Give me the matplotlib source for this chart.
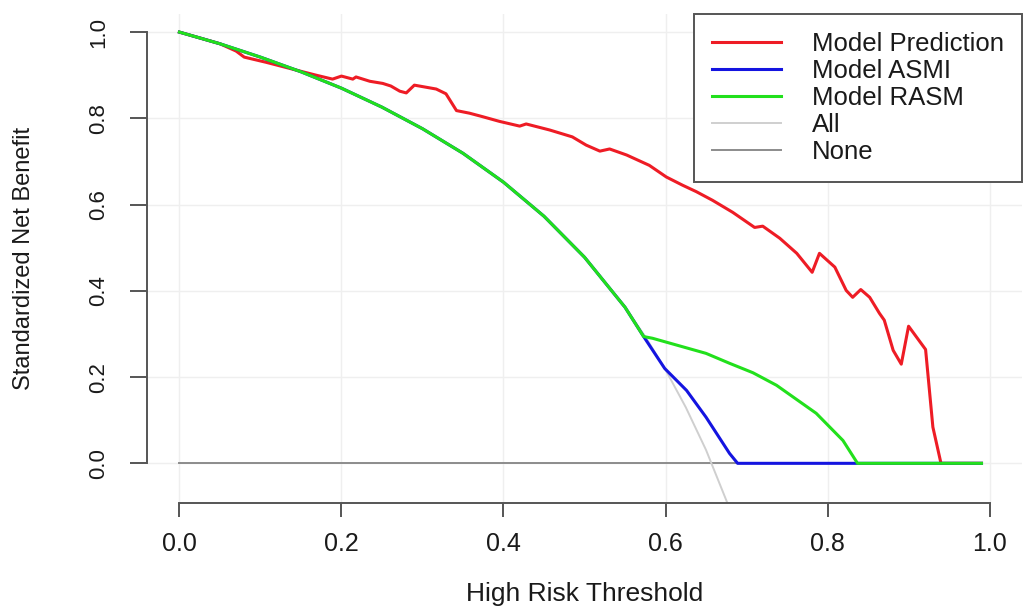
"""
Courbes de décision (net benefit standardisé)
"""
import matplotlib
matplotlib.use('Agg')
import matplotlib.pyplot as plt

# Seuils et net benefit standardisé
pred_x = [0.0, 0.05, 0.070, 0.080, 0.107, 0.144, 0.169, 0.189, 0.200, 0.214, 0.218,
          0.235, 0.251, 0.261, 0.272, 0.280, 0.290, 0.317, 0.329, 0.333, 0.342,
          0.358, 0.374, 0.395, 0.420, 0.428, 0.457, 0.485, 0.502, 0.519, 0.531,
          0.552, 0.580, 0.601, 0.621, 0.638, 0.658, 0.683, 0.710, 0.720, 0.741,
          0.762, 0.781, 0.790, 0.809, 0.823, 0.831, 0.841, 0.852, 0.864, 0.870,
          0.881, 0.891, 0.900, 0.921, 0.930, 0.940, 0.990]
pred_y = [1.0, 0.973, 0.956, 0.942, 0.930, 0.912, 0.900, 0.891, 0.898, 0.891, 0.896,
          0.886, 0.881, 0.875, 0.863, 0.859, 0.877, 0.868, 0.857, 0.845, 0.818,
          0.812, 0.804, 0.793, 0.782, 0.787, 0.773, 0.757, 0.738, 0.724, 0.729,
          0.715, 0.691, 0.664, 0.645, 0.630, 0.610, 0.582, 0.547, 0.550, 0.522,
          0.487, 0.443, 0.487, 0.455, 0.401, 0.385, 0.403, 0.385, 0.348, 0.332,
          0.262, 0.230, 0.318, 0.264, 0.084, 0.0, 0.0]

asmi_x = [0.0, 0.05, 0.1, 0.15, 0.2, 0.25, 0.3, 0.35, 0.4, 0.45, 0.5, 0.55, 0.573,
          0.599, 0.626, 0.650, 0.679, 0.689, 0.990]
asmi_y = [1.0, 0.973, 0.942, 0.908, 0.870, 0.826, 0.776, 0.719, 0.652, 0.573, 0.478,
          0.362, 0.294, 0.220, 0.169, 0.107, 0.023, 0.0, 0.0]

rasm_x = [0.0, 0.05, 0.1, 0.15, 0.2, 0.25, 0.3, 0.35, 0.4, 0.45, 0.5, 0.55, 0.573,
          0.584, 0.650, 0.679, 0.708, 0.737, 0.786, 0.819, 0.837, 0.990]
rasm_y = [1.0, 0.973, 0.942, 0.908, 0.870, 0.826, 0.776, 0.719, 0.652, 0.573, 0.478,
          0.362, 0.294, 0.290, 0.255, 0.232, 0.210, 0.181, 0.116, 0.053, 0.0, 0.0]

all_x = [0.0, 0.05, 0.1, 0.15, 0.2, 0.25, 0.3, 0.35, 0.4, 0.45, 0.5, 0.55, 0.575,
         0.6, 0.625, 0.65, 0.68]
all_y = [1.0, 0.973, 0.942, 0.908, 0.870, 0.826, 0.776, 0.719, 0.652, 0.573, 0.478,
         0.362, 0.294, 0.217, 0.130, 0.031, -0.109]

none_x = [0.0, 0.99]
none_y = [0.0, 0.0]

ticks = [0.0, 0.2, 0.4, 0.6, 0.8, 1.0]
tick_labels = ['0.0', '0.2', '0.4', '0.6', '0.8', '1.0']

plt.rcParams['font.family'] = ['Liberation Sans', 'DejaVu Sans']

fig = plt.figure(figsize=(10.23, 6.07), dpi=100)
ax = fig.add_axes([147 / 1023, 1 - 503 / 607, 875 / 1023, 489 / 607])

ax.plot(none_x, none_y, color='#8c8c8c', lw=1.4, label='None', zorder=2)
ax.plot(all_x, all_y, color='#cfcfcf', lw=1.4, label='All', zorder=2)
ax.plot(pred_x, pred_y, color='#ee1c25', lw=2.2, label='Model Prediction', zorder=3)
ax.plot(asmi_x, asmi_y, color='#1414e0', lw=2.2, label='Model ASMI', zorder=4)
ax.plot(rasm_x, rasm_y, color='#22e01c', lw=2.2, label='Model RASM', zorder=5)

ax.set_xlim(-0.04, 1.04)
ax.set_ylim(-0.092, 1.042)
ax.set_xticks(ticks)
ax.set_xticklabels(tick_labels)
ax.set_yticks(ticks)
ax.set_yticklabels(tick_labels)
ax.grid(True, color='#efefef', lw=1.0, zorder=0)

# axes façon R : traits séparés, bornés à 0-1
for side in ['top', 'right']:
    ax.spines[side].set_visible(False)
ax.spines['left'].set_bounds(0, 1)
ax.spines['bottom'].set_bounds(0, 1)
for side in ['left', 'bottom']:
    ax.spines[side].set_color('#555555')
    ax.spines[side].set_linewidth(1.4)

ax.tick_params(axis='x', length=10, width=1.4, color='#555555', pad=11,
               labelsize=18, labelcolor='#1a1a1a')
ax.tick_params(axis='y', length=12, width=1.4, color='#555555', pad=15,
               labelsize=16, labelcolor='#1a1a1a', labelrotation=90)
for lab in ax.get_yticklabels():
    lab.set_va('center')

ax.set_xlabel('High Risk Threshold', fontsize=19, color='#1a1a1a')
ax.set_ylabel('Standardized Net Benefit', fontsize=17, color='#1a1a1a')
ax.xaxis.set_label_coords(0.5, -0.162)
ax.yaxis.set_label_coords(-0.128, 0.5)

handles, labels = ax.get_legend_handles_labels()
order = [2, 3, 4, 1, 0]
leg = ax.legend([handles[i] for i in order], [labels[i] for i in order],
                loc='upper right', bbox_to_anchor=(1.0, 1.0), borderaxespad=0,
                fontsize=18.5, frameon=True, fancybox=False, framealpha=1,
                edgecolor='#555555', labelspacing=0.12, handlelength=2.7,
                handletextpad=1.2, borderpad=0.7)
leg.get_frame().set_linewidth(1.4)
for t in leg.get_texts():
    t.set_color('#1a1a1a')

plt.savefig('out.png', dpi=100)
